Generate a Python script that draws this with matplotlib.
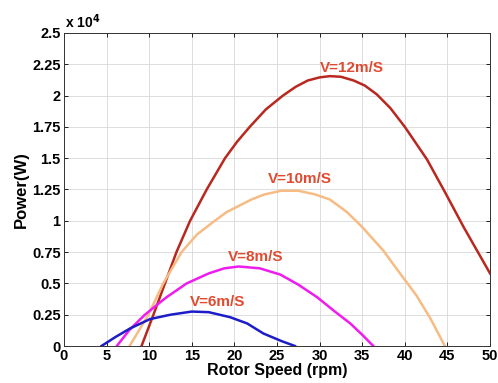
"""Rotor power vs rotor speed for several wind speeds
"""
import matplotlib
matplotlib.use('agg')
import matplotlib.pyplot as plt

plt.rcParams['font.family'] = ['Liberation Sans', 'DejaVu Sans']
plt.rcParams['font.weight'] = 'bold'

# power values in units of 1e4 W
v12_rpm = [9.1, 10.5, 11.85, 13.2, 14.8, 16.75, 18.9, 20.3, 21.8, 23.7, 25.7, 27.2, 28.6, 30.0, 31.2, 32.5,
           34.0, 35.3, 36.7, 38.3, 40.0, 42.6, 44.7, 46.9, 50.0]
v12_pow = [0.0, 0.25, 0.5, 0.75, 1.0, 1.25, 1.5, 1.63, 1.75, 1.89, 2.0, 2.07, 2.12, 2.145, 2.155, 2.15,
           2.12, 2.08, 2.01, 1.9, 1.75, 1.49, 1.23, 0.95, 0.58]

v10_rpm = [7.7, 9.9, 11.65, 13.8, 15.6, 17.5, 19.1, 20.7, 22.0, 23.5, 25.5, 27.5, 29.5, 31.2, 33.2, 35.0,
           37.5, 39.0, 41.4, 43.0, 44.7]
v10_pow = [0.0, 0.25, 0.5, 0.75, 0.89, 0.99, 1.07, 1.125, 1.17, 1.21, 1.24, 1.24, 1.21, 1.17, 1.07, 0.95,
           0.76, 0.62, 0.40, 0.22, 0.0]

v8_rpm = [6.2, 7.7, 9.5, 11.3, 12.05, 14.4, 17.0, 18.8, 20.5, 23.0, 25.4, 27.5, 29.7, 31.7, 33.6, 35.0, 36.3]
v8_pow = [0.0, 0.13, 0.25, 0.35, 0.39, 0.5, 0.58, 0.62, 0.635, 0.62, 0.57, 0.49, 0.39, 0.28, 0.18, 0.09, 0.0]

v6_rpm = [4.4, 6.0, 7.75, 10.1, 12.5, 15.0, 17.0, 19.5, 21.5, 23.4, 25.5, 27.1]
v6_pow = [0.0, 0.07, 0.14, 0.215, 0.25, 0.275, 0.27, 0.23, 0.18, 0.10, 0.04, 0.0]

labels = ['V=12m/S', 'V=10m/S', 'V=8m/S', 'V=6m/S']
label_x = [33.8, 27.7, 22.5, 18.0]
label_y = [2.22, 1.33, 0.71, 0.355]

xticks = list(range(0, 55, 5))
yticks = [0, 0.25, 0.5, 0.75, 1, 1.25, 1.5, 1.75, 2, 2.25, 2.5]

fig = plt.figure(figsize=[4.98, 3.83], dpi=100)
ax = fig.add_axes([0.1285, 0.0966, 0.8555, 0.8174])

ax.plot(v12_rpm, v12_pow, color='#b8281f', lw=1.8)
ax.plot(v10_rpm, v10_pow, color='#f7bc84', lw=1.8)
ax.plot(v8_rpm, v8_pow, color='#ee1cee', lw=1.8)
ax.plot(v6_rpm, v6_pow, color='#1c1cc8', lw=1.8)

for t, x, y in zip(labels, label_x, label_y):
    ax.text(x, y, t, color='#e04a30', fontsize=11, fontweight='bold',
            ha='center', va='center')

ax.set_xlim(0, 50)
ax.set_ylim(0, 2.5)
ax.set_xticks(xticks)
ax.set_xticklabels([str(v) for v in xticks])
ax.set_yticks(yticks)
ax.set_yticklabels(['%g' % v for v in yticks])
ax.tick_params(direction='in', top=True, right=True, labelsize=10.5, length=3, width=0.6, pad=2.5)
for lab in ax.get_xticklabels() + ax.get_yticklabels():
    lab.set_fontweight('bold')
ax.grid(color='#d8d8d8', lw=0.6)
ax.set_axisbelow(True)
for s in ax.spines.values():
    s.set_linewidth(0.7)
    s.set_color('#333333')

ax.text(0.002, 1.005, r'x 10$^4$', transform=ax.transAxes, fontsize=10,
        fontweight='bold', ha='left', va='bottom')
ax.set_xlabel('Rotor Speed (rpm)', fontsize=11.5, fontweight='bold', labelpad=0)
ax.set_ylabel('Power(W)', fontsize=12, fontweight='bold', labelpad=2)

plt.savefig('out.png', dpi=100)
